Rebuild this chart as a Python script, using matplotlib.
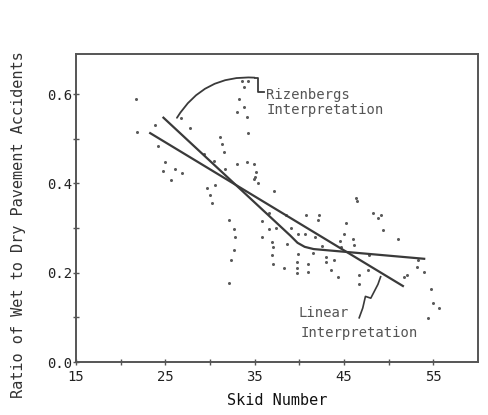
import matplotlib
matplotlib.use("Agg")
import matplotlib.pyplot as plt

# Observed wet/dry accident ratios by skid number
skid = [21.7, 21.8, 23.8, 24.2, 25.0, 26.1, 24.7, 25.6, 26.9, 27.8, 26.7,
        29.7, 30.0, 30.2, 30.6, 31.1, 31.3, 31.6, 31.7, 33.0, 34.1, 33.8,
        33.2, 33.0, 33.8, 34.1, 34.2, 33.6, 34.2, 34.9, 35.2, 34.9, 35.4,
        35.0, 37.2, 32.1, 32.7, 32.8, 32.7, 32.4, 32.1, 35.8, 36.6, 35.8,
        36.9, 37.1, 36.9, 36.6, 37.4, 39.1, 39.9, 40.6, 41.7, 38.6, 39.9,
        39.7, 43.0, 43.9, 44.7, 47.8, 53.3, 46.3, 42.1, 42.2, 45.2, 45.0,
        46.0, 46.1, 48.8, 49.1, 49.4, 51.1, 39.7, 41.0, 41.0, 43.0, 43.6,
        44.3, 46.7, 46.7, 47.7, 51.7, 52.1, 53.2, 53.9, 54.7, 55.0, 55.6,
        54.4, 37.0, 38.3, 39.7, 41.5, 42.5, 44.5, 38.5, 40.8, 29.3, 30.4,
        46.5, 48.3]
ratio = [0.590, 0.515, 0.532, 0.484, 0.448, 0.433, 0.429, 0.407, 0.424,
         0.525, 0.547, 0.389, 0.374, 0.356, 0.396, 0.505, 0.488, 0.470,
         0.433, 0.444, 0.448, 0.615, 0.590, 0.560, 0.571, 0.549, 0.514,
         0.629, 0.629, 0.444, 0.426, 0.411, 0.400, 0.415, 0.382, 0.319,
         0.297, 0.279, 0.251, 0.229, 0.176, 0.316, 0.297, 0.279, 0.268,
         0.257, 0.240, 0.334, 0.301, 0.301, 0.286, 0.286, 0.279, 0.264,
         0.242, 0.224, 0.235, 0.229, 0.257, 0.240, 0.229, 0.367, 0.319,
         0.330, 0.312, 0.286, 0.275, 0.262, 0.323, 0.330, 0.295, 0.275,
         0.200, 0.220, 0.202, 0.224, 0.207, 0.191, 0.196, 0.174, 0.207,
         0.191, 0.195, 0.213, 0.202, 0.163, 0.132, 0.121, 0.099, 0.220,
         0.210, 0.210, 0.245, 0.260, 0.270, 0.330, 0.330, 0.465, 0.450,
         0.360, 0.334]

# Fitted interpretations
linear_x = [23.2, 51.7]
linear_y = [0.514, 0.169]
rizenbergs_x = [24.7, 39.0, 39.8, 40.6, 41.6, 54.1]
rizenbergs_y = [0.549, 0.283, 0.267, 0.258, 0.253, 0.231]

# Callout leaders
riz_arc_start = (26.3, 0.547)
riz_arc_end = (35.0, 0.637)
riz_bracket_x = [35.0, 35.4, 35.4, 36.1]
riz_bracket_y = [0.637, 0.637, 0.604, 0.604]
lin_leader_x = [49.1, 48.8, 48.0, 47.4, 47.1, 46.7]
lin_leader_y = [0.191, 0.174, 0.143, 0.147, 0.121, 0.099]

x_ticks = [15, 20, 25, 30, 35, 40, 45, 50, 55]
x_labels = ["15", "", "25", "", "35", "", "45", "", "55"]
y_ticks = [0.0, 0.2, 0.4, 0.6]
y_labels = ["0.0", "0.2", "0.4", "0.6"]

ink = "#3a3a3a"
mono = "DejaVu Sans Mono"

fig = plt.figure(figsize=(4.89, 4.15), dpi=100)
ax = fig.add_axes([0.1554, 0.1277, 0.8221, 0.7422])

ax.plot(skid, ratio, linestyle="none", marker="o", markersize=2.2,
        color="#5a5a5a", markeredgewidth=0)
ax.plot(linear_x, linear_y, color=ink, linewidth=1.6, solid_capstyle="butt")
ax.plot(rizenbergs_x, rizenbergs_y, color=ink, linewidth=1.6,
        solid_capstyle="butt")

# curved leader to the Rizenbergs line, ending in a small bracket
ax.annotate("", xy=riz_arc_start, xytext=riz_arc_end,
            arrowprops=dict(arrowstyle="-", color=ink, linewidth=1.3,
                            shrinkA=0, shrinkB=0,
                            connectionstyle="arc3,rad=0.3"))
ax.plot(riz_bracket_x, riz_bracket_y, color=ink, linewidth=1.3)
ax.plot(lin_leader_x, lin_leader_y, color=ink, linewidth=1.2)

ax.text(36.3, 0.598, "Rizenbergs", family=mono, fontsize=10, color="#555555",
        va="center", ha="left")
ax.text(36.3, 0.565, "Interpretation", family=mono, fontsize=10,
        color="#555555", va="center", ha="left")
ax.text(39.9, 0.110, "Linear", family=mono, fontsize=10, color="#555555",
        va="center", ha="left")
ax.text(40.2, 0.064, "Interpretation", family=mono, fontsize=10,
        color="#555555", va="center", ha="left")

ax.set_xlim(15, 60)
ax.set_ylim(0, 0.69)
ax.set_xticks(x_ticks)
ax.set_xticklabels(x_labels)
ax.set_yticks(y_ticks)
ax.set_yticklabels(y_labels)
ax.set_yticks([0.1, 0.3, 0.5], minor=True)
ax.tick_params(axis="both", which="both", direction="inout", length=4,
               width=1, color="#555555", labelcolor="#222222",
               labelsize=10)
ax.tick_params(axis="x", pad=4)
ax.tick_params(axis="y", pad=1)
for lab in ax.get_xticklabels() + ax.get_yticklabels():
    lab.set_family(mono)

for side in ["left", "bottom", "top", "right"]:
    ax.spines[side].set_color("#555555")
    ax.spines[side].set_linewidth(1.4)

fig.text(0.037, 0.458, "Ratio of Wet to Dry Pavement Accidents", rotation=90,
         family=mono, fontsize=11, color="#333333", ha="center", va="center")
fig.text(0.566, 0.036, "Skid Number", family=mono, fontsize=11,
         color="#111111", ha="center", va="center")

fig.savefig("out.png", dpi=100)
